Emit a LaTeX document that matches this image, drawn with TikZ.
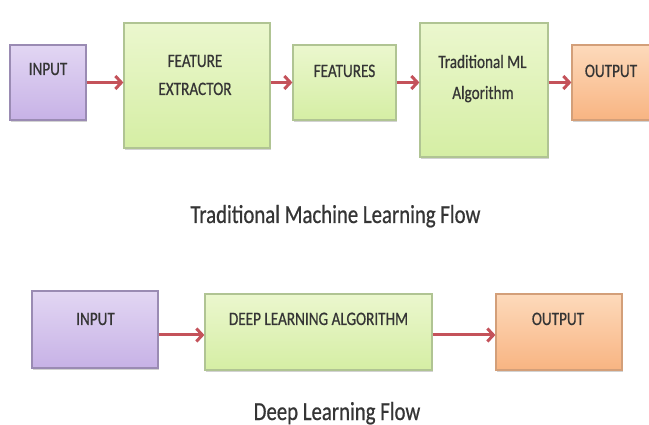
\documentclass[tikz,border=0pt]{standalone}
\usepackage{fontspec}
\setmainfont{Carlito}[FakeStretch=0.8, FakeBold=0.6]
\usetikzlibrary{arrows.meta,shadows}
\definecolor{gtop}{HTML}{EBF7CE}
\definecolor{gbot}{HTML}{D5EEA4}
\definecolor{gbord}{HTML}{B0C493}
\definecolor{ptop}{HTML}{E2D6F3}
\definecolor{pbot}{HTML}{C7B2E6}
\definecolor{pbord}{HTML}{9A8BB3}
\definecolor{otop}{HTML}{FDDABB}
\definecolor{obot}{HTML}{F8B482}
\definecolor{obord}{HTML}{D39F79}
\definecolor{txt}{HTML}{353535}
\definecolor{arrc}{HTML}{C4525A}
\begin{document}
\begin{tikzpicture}[x=1pt,y=-1pt,
  box/.style={draw, line width=1.2pt, inner sep=0pt,
    drop shadow={shadow xshift=1.2pt, shadow yshift=-2pt, opacity=0.25, fill=black!70}},
  greenbox/.style={box, draw=gbord, top color=gtop, bottom color=gbot},
  purplebox/.style={box, draw=pbord, top color=ptop, bottom color=pbot},
  orangebox/.style={box, draw=obord, top color=otop, bottom color=obot},
  lbl/.style={font=\fontsize{19}{19}\selectfont, text=txt, anchor=base, inner sep=0pt},
  captext/.style={font=\fontsize{26}{26}\selectfont, text=txt, anchor=base, inner sep=0pt},
  arr/.style={draw=arrc, line width=3pt, -{Straight Barb[length=6pt,width=13pt]}}]
\useasboundingbox[fill=white] (0,0) rectangle (649,425);

% top row
\node[purplebox, minimum width=76pt, minimum height=75pt] (in1) at (48,82.5) {};
\node[greenbox, minimum width=146pt, minimum height=125pt] (fe) at (197,85.5) {};
\node[greenbox, minimum width=103pt, minimum height=75pt] (feat) at (344.5,82.5) {};
\node[greenbox, minimum width=128pt, minimum height=134pt] (tml) at (484,90) {};
\node[orangebox, minimum width=80pt, minimum height=75pt] (out1) at (612,82.5) {};

\node[lbl] (tin1) at (48,75) {INPUT};
\node[lbl] (tfe1) at (195,67) {FEATURE};
\node[lbl] (tfe2) at (195,95) {EXTRACTOR};
\node[lbl] (tfeat) at (344.5,77) {FEATURES};
\node[lbl] (ttml1) at (482.5,68) {Traditional ML};
\node[lbl] (ttml2) at (483,99) {Algorithm};
\node[lbl] (tout1) at (611,77) {OUTPUT};

\draw[arr] (in1.east) -- (in1.east -| fe.west);
\draw[arr] (fe.east |- in1.east) -- (feat.west);
\draw[arr] (feat.east) -- (feat.east -| tml.west);
\draw[arr] (tml.east |- out1.west) -- (out1.west);

\node[captext] (cap1) at (335.5,223) {Traditional Machine Learning Flow};

% bottom row
\node[purplebox, minimum width=126pt, minimum height=77pt] (in2) at (95,329.5) {};
\node[greenbox, minimum width=227pt, minimum height=76pt] (dl) at (318.5,332) {};
\node[orangebox, minimum width=126pt, minimum height=76pt] (out2) at (559,332) {};

\node[lbl] (tin2) at (95.5,325) {INPUT};
\node[lbl] (tdl) at (318.5,325) {DEEP LEARNING ALGORITHM};
\node[lbl] (tout2) at (558,325) {OUTPUT};

\coordinate (ay) at (0,335);
\draw[arr] (in2.east |- ay) -- (dl.west |- ay);
\draw[arr] (dl.east |- ay) -- (out2.west |- ay);

\node[captext] (cap2) at (337,420) {Deep Learning Flow};
\end{tikzpicture}
\end{document}
